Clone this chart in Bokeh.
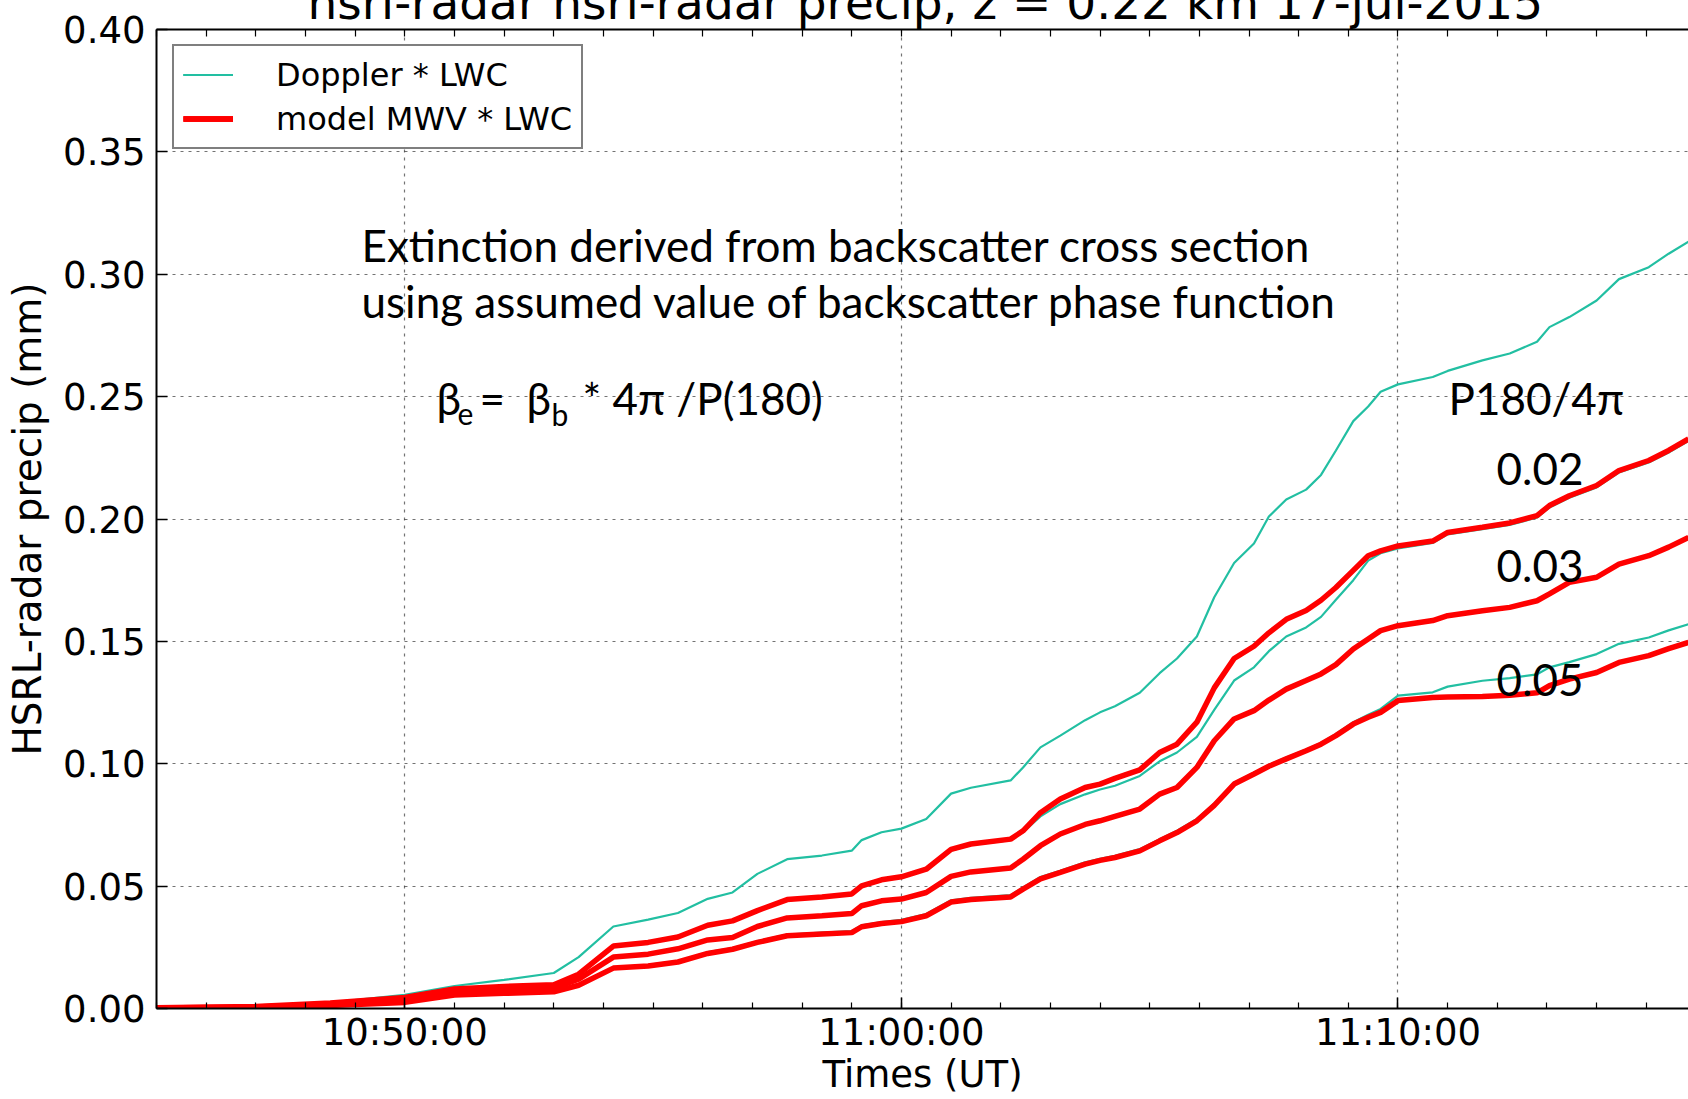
import pandas as pd
from bokeh.plotting import figure
from bokeh.models import (Range1d, FixedTicker, DatetimeTickFormatter, PrintfTickFormatter,
                          Label, Legend, LegendItem, DatetimeAxis)
from bokeh.embed import file_html
from bokeh.resources import INLINE

# ---------------- data ----------------
DAY = "2015-07-17 "
times = ["10:45:00", "10:47:00", "10:48:30", "10:50:00", "10:51:00", "10:52:00", "10:53:00",
         "10:53:30", "10:54:12", "10:54:54", "10:55:30", "10:56:06", "10:56:36", "10:57:06",
         "10:57:42", "10:58:24", "10:59:00", "10:59:12", "10:59:36", "11:00:00", "11:00:30",
         "11:01:00", "11:01:24", "11:02:12", "11:02:27", "11:02:48", "11:03:12", "11:03:42",
         "11:04:00", "11:04:18", "11:04:48", "11:05:12", "11:05:33", "11:05:57", "11:06:18",
         "11:06:42", "11:07:06", "11:07:24", "11:07:45", "11:08:09", "11:08:27", "11:08:45",
         "11:09:06", "11:09:24", "11:09:39", "11:10:00", "11:10:42", "11:11:00", "11:11:42",
         "11:12:15", "11:12:48", "11:13:03", "11:13:27", "11:14:00", "11:14:27", "11:15:03",
         "11:15:27", "11:15:51"]

doppler_002 = [0.0005, 0.0012, 0.0024, 0.0056, 0.0092, 0.0117, 0.0145, 0.0210, 0.0335, 0.0363,
               0.0390, 0.0448, 0.0474, 0.0550, 0.0610, 0.0625, 0.0645, 0.0688, 0.0720, 0.0735,
               0.0774, 0.0878, 0.0902, 0.0932, 0.0985, 0.1067, 0.1115, 0.1178, 0.1210, 0.1235,
               0.1290, 0.1370, 0.1430, 0.1520, 0.1680, 0.1820, 0.1900, 0.2010, 0.2080, 0.2120,
               0.2180, 0.2280, 0.2400, 0.2460, 0.2520, 0.2550, 0.2580, 0.2605, 0.2648, 0.2676,
               0.2724, 0.2784, 0.2825, 0.2893, 0.2980, 0.3029, 0.3084, 0.3133]
doppler_003 = [0.0003, 0.0008, 0.0021, 0.0043, 0.0077, 0.0087, 0.0094, 0.0137, 0.0252, 0.0267,
               0.0290, 0.0337, 0.0355, 0.0397, 0.0442, 0.0453, 0.0465, 0.0498, 0.0523, 0.0535,
               0.0566, 0.0645, 0.0668, 0.0688, 0.0720, 0.0785, 0.0835, 0.0875, 0.0895, 0.0910,
               0.0950, 0.1010, 0.1046, 0.1110, 0.1220, 0.1340, 0.1394, 0.1460, 0.1520, 0.1557,
               0.1600, 0.1670, 0.1750, 0.1830, 0.1860, 0.1880, 0.1902, 0.1937, 0.1958, 0.1976,
               0.2006, 0.2047, 0.2087, 0.2129, 0.2190, 0.2231, 0.2272, 0.2319]
doppler_005 = [0.0002, 0.0005, 0.0014, 0.0028, 0.0058, 0.0065, 0.0071, 0.0098, 0.0168, 0.0178,
               0.0194, 0.0230, 0.0247, 0.0275, 0.0302, 0.0310, 0.0316, 0.0340, 0.0353, 0.0362,
               0.0386, 0.0442, 0.0452, 0.0463, 0.0495, 0.0537, 0.0563, 0.0597, 0.0612, 0.0624,
               0.0651, 0.0692, 0.0726, 0.0774, 0.0837, 0.0922, 0.0963, 0.0995, 0.1025, 0.1058,
               0.1085, 0.1122, 0.1170, 0.1200, 0.1224, 0.1278, 0.1292, 0.1315, 0.1339, 0.1350,
               0.1365, 0.1394, 0.1415, 0.1448, 0.1490, 0.1516, 0.1545, 0.1570]
model_002 = [0.0003, 0.0008, 0.0022, 0.0045, 0.0080, 0.0090, 0.0097, 0.0140, 0.0255, 0.0270,
             0.0292, 0.0340, 0.0358, 0.0400, 0.0445, 0.0456, 0.0468, 0.0501, 0.0526, 0.0538,
             0.0569, 0.0650, 0.0672, 0.0692, 0.0726, 0.0800, 0.0856, 0.0903, 0.0917, 0.0940,
             0.0975, 0.1046, 0.1080, 0.1170, 0.1310, 0.1430, 0.1480, 0.1535, 0.1590, 0.1626,
             0.1668, 0.1720, 0.1790, 0.1850, 0.1870, 0.1890, 0.1910, 0.1945, 0.1966, 0.1984,
             0.2014, 0.2055, 0.2095, 0.2137, 0.2198, 0.2239, 0.2280, 0.2327]
model_003 = [0.0002, 0.0006, 0.0017, 0.0035, 0.0070, 0.0078, 0.0083, 0.0120, 0.0210, 0.0222,
             0.0244, 0.0280, 0.0290, 0.0335, 0.0370, 0.0379, 0.0388, 0.0420, 0.0440, 0.0447,
             0.0474, 0.0540, 0.0558, 0.0574, 0.0610, 0.0665, 0.0713, 0.0752, 0.0767, 0.0785,
             0.0815, 0.0876, 0.0903, 0.0985, 0.1094, 0.1183, 0.1217, 0.1260, 0.1305, 0.1340,
             0.1367, 0.1405, 0.1469, 0.1510, 0.1544, 0.1564, 0.1585, 0.1605, 0.1625, 0.1639,
             0.1666, 0.1694, 0.1741, 0.1762, 0.1816, 0.1850, 0.1885, 0.1925]
model_005 = [0.0001, 0.0004, 0.0012, 0.0025, 0.0055, 0.0062, 0.0068, 0.0095, 0.0165, 0.0174,
             0.0190, 0.0225, 0.0242, 0.0270, 0.0297, 0.0304, 0.0310, 0.0334, 0.0347, 0.0355,
             0.0379, 0.0435, 0.0445, 0.0456, 0.0488, 0.0530, 0.0556, 0.0590, 0.0605, 0.0617,
             0.0644, 0.0685, 0.0719, 0.0767, 0.0830, 0.0917, 0.0958, 0.0990, 0.1020, 0.1053,
             0.1080, 0.1115, 0.1162, 0.1190, 0.1210, 0.1258, 0.1271, 0.1273, 0.1275, 0.1280,
             0.1290, 0.1319, 0.1346, 0.1373, 0.1414, 0.1442, 0.1470, 0.1496]

x_tick_labels = ["10:50:00", "11:00:00", "11:10:00"]
y_ticks = [0.00, 0.05, 0.10, 0.15, 0.20, 0.25, 0.30, 0.35, 0.40]
x_start, x_end = "10:45:00", "11:15:51"
ratio_labels = ["0.02", "0.03", "0.05"]
TITLE = "hsrl-radar hsrl-radar precip, z = 0.22 km  17-jul-2015"


def ms(t):
    return pd.Timestamp(DAY + t).value // 10**6


xs = [ms(t) for t in times]
major = [ms(t) for t in x_tick_labels]
minor = [int(v.value // 10**6) for v in pd.date_range(DAY + x_start, DAY + "11:16:00", freq="1min")]

TEAL = "#22bfa2"
RED = "#ff0000"
MPL_FONT = "DejaVu Sans"
PPT_FONT = "Lato"
HIDE = 32  # rows of the canvas pushed above the top of the page (title is cut there)

p = figure(width=1688, height=1099 + HIDE, x_axis_type="datetime", output_backend="svg",
           toolbar_location=None, x_range=Range1d(ms(x_start), ms(x_end)),
           y_range=Range1d(0, 0.40), min_border_left=156, min_border_right=0,
           min_border_top=29 + HIDE, min_border_bottom=91, margin=(-HIDE, 0, 0, 0))
p.outline_line_color = None
p.background_fill_color = "white"
p.border_fill_color = "white"

p.title.text = TITLE
p.title.text_font = MPL_FONT
p.title.text_font_size = "47px"
p.title.text_font_style = "normal"
p.title.text_color = "black"
p.title.align = "left"
p.title.offset = 151
p.title.vertical_align = "bottom"
p.title.standoff = 0

# axes
p.xaxis.ticker = FixedTicker(ticks=major, minor_ticks=minor)
fmt = "%H:%M:%S"
p.xaxis.formatter = DatetimeTickFormatter(seconds=fmt, minsec=fmt, minutes=fmt, hourmin=fmt,
                                          hours=fmt, days=fmt)
p.yaxis.ticker = FixedTicker(ticks=y_ticks, minor_ticks=[])
p.yaxis.formatter = PrintfTickFormatter(format="%.2f")
for ax in (p.xaxis[0], p.yaxis[0]):
    ax.axis_line_width = 2
    ax.axis_line_color = "black"
    ax.major_tick_in = 11
    ax.major_tick_out = 0
    ax.minor_tick_in = 6
    ax.minor_tick_out = 0
    ax.major_tick_line_width = 1.5
    ax.minor_tick_line_width = 1.2
    ax.major_label_text_font = MPL_FONT
    ax.major_label_text_font_size = "37px"
    ax.major_label_text_color = "black"
    ax.axis_label_text_font = MPL_FONT
    ax.axis_label_text_font_style = "normal"
    ax.axis_label_text_color = "black"
p.xaxis.major_label_standoff = 2
p.xaxis.axis_label = "Times (UT)"
p.xaxis.axis_label_text_font_size = "37px"
p.xaxis.axis_label_standoff = -4
p.yaxis.major_label_standoff = 11
p.yaxis.axis_label = "HSRL-radar precip (mm)"
p.yaxis.axis_label_text_font_size = "39px"
p.yaxis.axis_label_standoff = 10

# top frame edge with minute ticks (no labels)
top = DatetimeAxis(ticker=FixedTicker(ticks=[], minor_ticks=minor),
                   axis_line_width=2, axis_line_color="black", major_label_standoff=0,
                   major_tick_in=0, major_tick_out=0, minor_tick_in=7, minor_tick_out=0,
                   minor_tick_line_width=1.2)
p.add_layout(top, "above")

for g in (p.xgrid[0], p.ygrid[0]):
    g.grid_line_color = "black"
    g.grid_line_alpha = 0.55
    g.grid_line_dash = "3 5"
    g.grid_line_width = 1.2

# lines (Doppler first, model on top)
t_lines = [p.line(xs, s, line_color=TEAL, line_width=2.2) for s in (doppler_002, doppler_003, doppler_005)]
r_lines = [p.line(xs, s, line_color=RED, line_width=5.5) for s in (model_002, model_003, model_005)]

legend = Legend(items=[LegendItem(label="Doppler * LWC", renderers=t_lines),
                       LegendItem(label="model MWV * LWC", renderers=r_lines)],
                location=(16, 859), margin=0, padding=9, spacing=5,
                glyph_width=50, glyph_height=39, label_height=39, label_standoff=43,
                label_text_font=MPL_FONT, label_text_font_size="32px",
                label_text_color="black",
                border_line_color="black", border_line_width=2.5,
                background_fill_color="white", background_fill_alpha=1.0)
p.add_layout(legend)


def note(x, baseline, text, size=44):
    # baseline: pixel row of the text baseline, counted up from the frame bottom
    p.add_layout(Label(x=x, y=baseline + 0.387 * size, x_units="screen", y_units="screen",
                       text=text, text_font=PPT_FONT, text_font_size=f"{size}px",
                       text_color="black", text_baseline="alphabetic"))


note(205, 746, "Extinction derived from backscatter cross section")
note(205, 690, "using assumed value of backscatter phase function")
note(280, 593, "β")
note(301, 583, "e", size=30)
note(323, 593, "=")
note(370, 593, "β")
note(395, 583, "b", size=30)
note(426, 593, "* 4π /P(180)")
note(1292, 593, "P180/4π")
for lab, base in zip(ratio_labels, (522, 425, 311)):
    note(1340, base, lab)

open("out.html", "w").write(file_html(p, INLINE))
